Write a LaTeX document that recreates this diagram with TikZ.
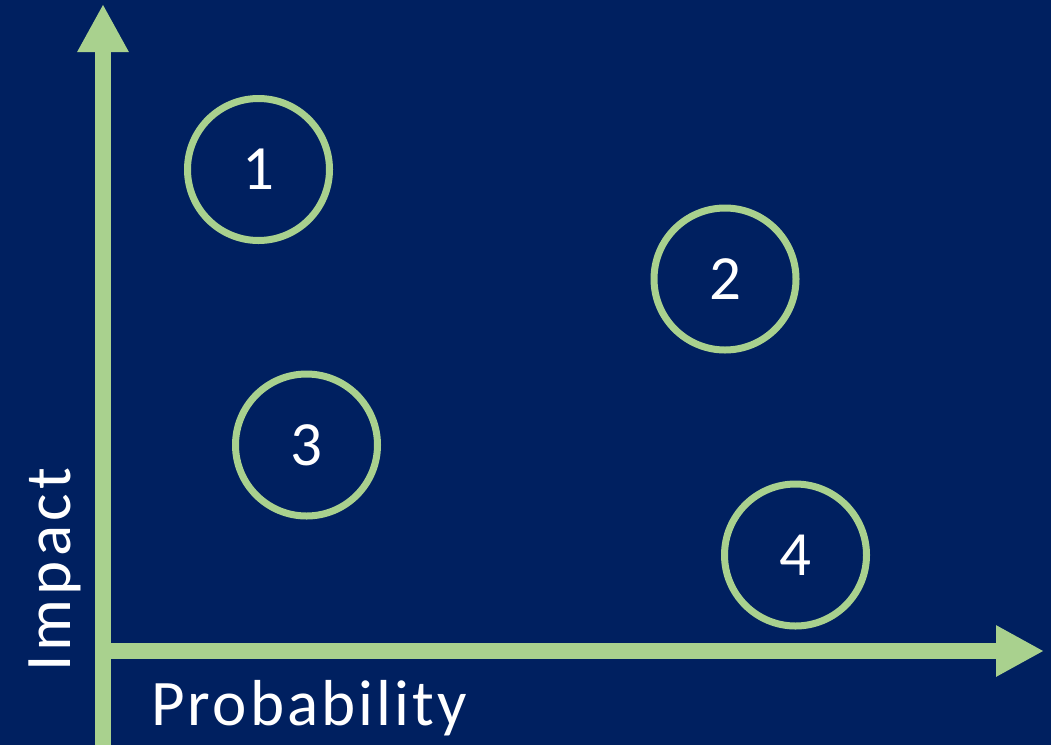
\documentclass[tikz,border=0pt]{standalone}
\usepackage{fontspec}
\setmainfont{Carlito}
\usetikzlibrary{arrows.meta}
\definecolor{navy}{HTML}{002060}
\definecolor{lgreen}{HTML}{A9D18E}
\tikzset{
  axis/.style={draw=lgreen, line width=16pt, -{Triangle[length=48pt,width=48pt]}},
  riskcircle/.style={circle, draw=lgreen, line width=7pt, minimum size=142pt, inner sep=0pt, text=white, font=\fontsize{63}{70}\selectfont},
  axislabel/.style={text=white, inner sep=0pt}
}
\begin{document}
\begin{tikzpicture}[x=1pt,y=-1pt]
\fill[navy] (0,0) rectangle (1051,745);
\useasboundingbox (0,0) rectangle (1051,745);
\coordinate (ybot) at (103,745);
\coordinate (ytip) at (103,4);
\coordinate (xleft) at (95,651);
\coordinate (xtip) at (1044,651);
\draw[axis] (ybot) -- (ytip);
\draw[axis] (xleft) -- (xtip);
\node[riskcircle] (c1) at (258.5,169.5) {1};
\node[riskcircle] (c2) at (725,279) {2};
\node[riskcircle] (c3) at (306.5,445) {3};
\node[riskcircle] (c4) at (795.5,555) {4};
\node[axislabel, anchor=base west, font={\fontsize{65}{78}\selectfont\addfontfeatures{LetterSpace=4.8}}] (prob) at (151,725) {Probability};
\node[axislabel, anchor=base west, rotate=90, font={\fontsize{65}{78}\selectfont\addfontfeatures{LetterSpace=6.5}}] (imp) at (70,672) {Impact};
\end{tikzpicture}
\end{document}
